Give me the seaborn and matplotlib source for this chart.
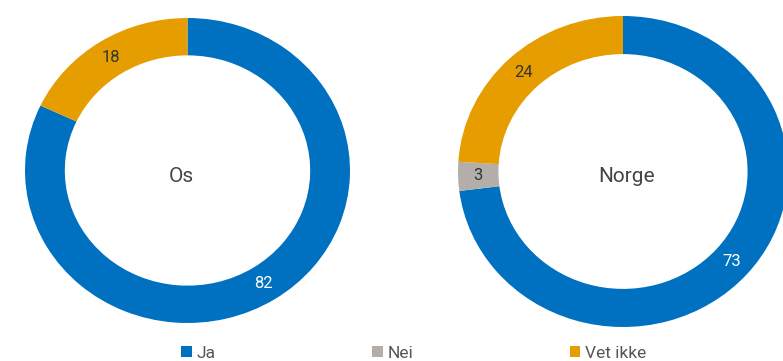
import matplotlib
matplotlib.use("Agg")
import matplotlib.pyplot as plt
import seaborn as sns

# Data
categories = ["Ja", "Nei", "Vet ikke"]
os_values = [82, 0, 18]
norge_values = [73, 3, 24]
panel_titles = ["Os", "Norge"]

colors = ["#0070c0", "#b3aea9", "#e69d00"]
label_colors = ["white", "#333333", "#333333"]


def draw_donut(ax, values, title, title_xy):
    '''Draw one clockwise donut starting at 12 o'clock'''
    wedges, texts, autotexts = ax.pie(
        values,
        colors=colors,
        startangle=90,
        counterclock=False,
        radius=1.0,
        wedgeprops=dict(width=0.245, linewidth=0),
        autopct=lambda p: "" if p < 0.5 else f"{p:.0f}",
        pctdistance=0.877,
        textprops=dict(fontsize=12),
    )
    for t, c in zip(autotexts, label_colors):
        t.set_color(c)
    # donut in the reference is slightly wider than tall
    ax.set_aspect("auto")
    ax.set_xlim(-1, 1)
    ax.set_ylim(-1, 1)
    ax.text(title_xy[0], title_xy[1], title, ha="center", va="center",
            fontsize=15, color="#444444")
    return wedges


sns.set_theme(style="white")
plt.rcParams["font.family"] = ["Roboto", "DejaVu Sans"]

fig = plt.figure(figsize=(7.83, 3.61), dpi=100)
W, H = 783.0, 361.0

ax_os = fig.add_axes([25 / W, (H - 323) / H, 325 / W, 305 / H])
ax_no = fig.add_axes([458 / W, (H - 327) / H, 330 / W, 311 / H])

draw_donut(ax_os, os_values, panel_titles[0], (-0.04, -0.04))
wedges = draw_donut(ax_no, norge_values, panel_titles[1], (0.02, -0.03))

leg = fig.legend(
    wedges, categories,
    loc="center", bbox_to_anchor=(414 / W, 8 / H),
    ncol=3, frameon=False,
    fontsize=12.5,
    handlelength=0.6, handleheight=0.6, handletextpad=0.3,
    columnspacing=9.0,
)
for t in leg.get_texts():
    t.set_color("#555555")

fig.savefig("out.png", dpi=100)
